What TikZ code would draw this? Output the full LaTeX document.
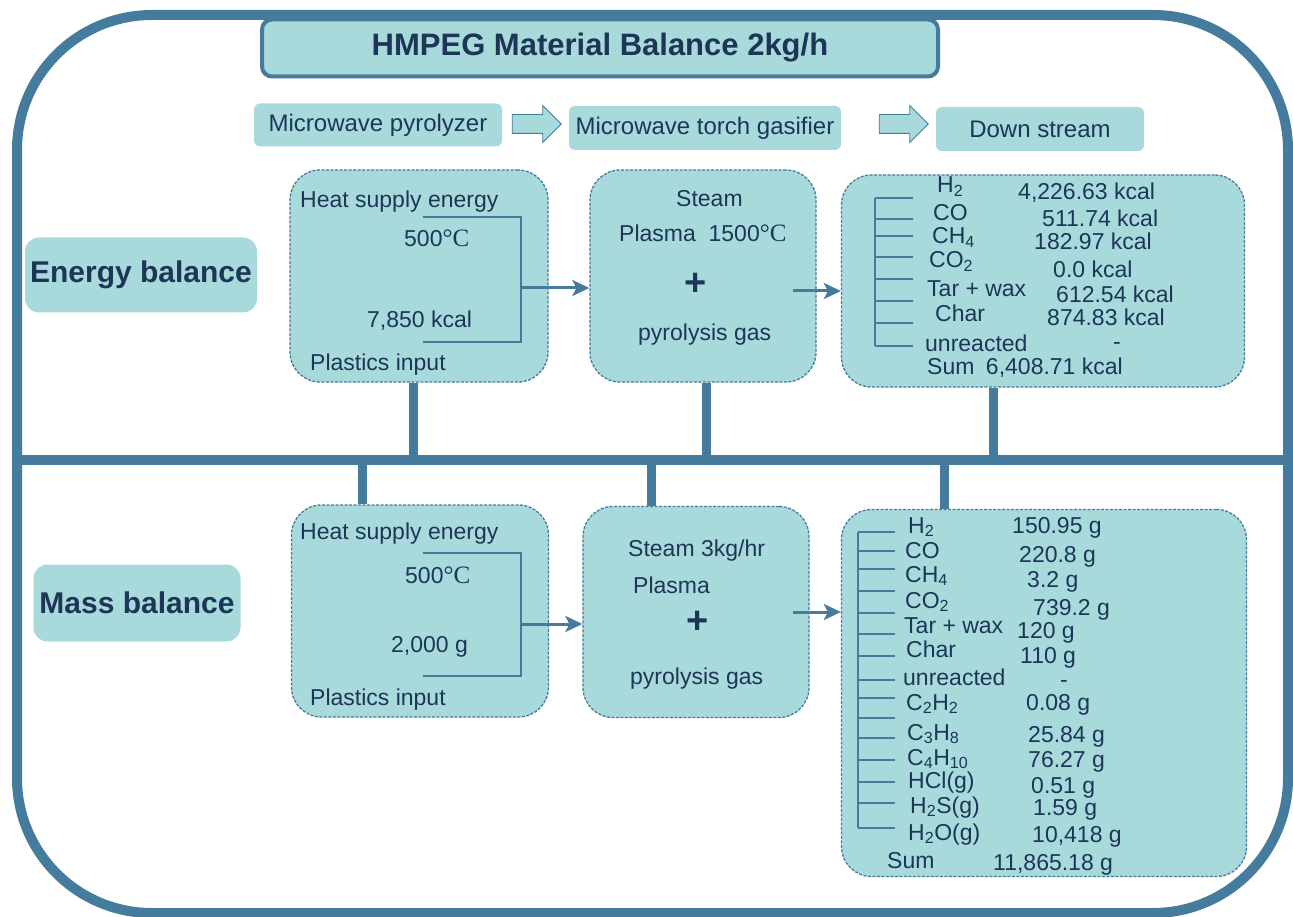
\documentclass[tikz,border=0pt]{standalone}
\usepackage{fontspec}
\setmainfont{Liberation Sans}
\newfontfamily\degfont{Liberation Serif}
\usepackage{xcolor}
\usetikzlibrary{shapes,arrows,positioning,calc,arrows.meta}

\definecolor{boxfill}{RGB}{168,218,220}
\definecolor{lineblue}{RGB}{69,123,157}
\definecolor{textnavy}{RGB}{29,53,87}
\newcommand{\degC}{{\degfont\fontsize{25}{28}\selectfont °C}}

\tikzset{
  panel/.style={draw=lineblue, line width=1.3pt, dash pattern=on 3pt off 1.5pt, fill=boxfill, rounded corners=30pt, inner sep=0pt},
  stagebox/.style={fill=boxfill, rounded corners=6pt, text=textnavy, font=\fontsize{24}{28}\selectfont},
  sidebox/.style={fill=boxfill, rounded corners=14pt, text=textnavy, font=\bfseries\fontsize{30}{34}\selectfont},
  titlebox/.style={draw=lineblue, line width=4pt, fill=boxfill, rounded corners=10pt, text=textnavy, font=\bfseries\fontsize{31}{36}\selectfont},
  blockarrow/.style={single arrow, draw=lineblue, line width=0.8pt, fill=boxfill, inner xsep=0pt, inner ysep=9pt, minimum height=49pt, single arrow head extend=9pt},
  txt/.style={anchor=base west, inner sep=0pt, text=textnavy, font=\fontsize{23}{26}\selectfont},
  plus/.style={inner sep=0pt, text=textnavy, font=\bfseries\fontsize{38}{42}\selectfont},
  frame/.style={draw=lineblue, line width=10pt},
  bar/.style={draw=lineblue, line width=9pt},
  brk/.style={draw=lineblue, line width=1.5pt},
  flow/.style={draw=lineblue, line width=3pt, -{Stealth[length=17pt,width=16pt,inset=4pt]}},
}

\begin{document}
\begin{tikzpicture}[x=1pt, y=-1pt]
    \useasboundingbox (0,0) rectangle (1293,917);

    % Frame
    \draw[frame, rounded corners=135pt] (17,15) rectangle (1288,913);
    \draw[frame] (17,460) -- (1288,460);
    \coordinate (mid) at (0,460);

    % Header
    \node[titlebox, minimum width=676pt, minimum height=57pt] (title) at (600,48) {HMPEG Material Balance 2kg/h};
    \node[stagebox, minimum width=248pt, minimum height=43pt] (pyro) at (378,125) {Microwave pyrolyzer};
    \node[blockarrow] (go1) at (532,124) {};
    \node[stagebox, minimum width=272pt, minimum height=44pt] (torch) at (705,128) {Microwave torch gasifier};
    \node[blockarrow] (go2) at (899,124) {};
    \node[stagebox, minimum width=208pt, minimum height=44pt] (down) at (1040,129) {Down stream};

    % Row labels
    \node[sidebox, minimum width=232pt, minimum height=75pt] (energy) at (141,275) {Energy balance};
    \node[sidebox, minimum width=207pt, minimum height=77pt] (mass) at (137,603) {Mass balance};

    % Energy balance
    \node[panel, minimum width=258pt, minimum height=212pt] (e1) at (419,276) {};
    \node[panel, minimum width=226pt, minimum height=212pt] (e2) at (703,276) {};
    \node[panel, minimum width=403pt, minimum height=212pt] (e3) at (1043,281) {};

    \node[txt] (e1top) at (300,208) {Heat supply energy};
    \node[txt] (e1temp) at (404,247) {500\degC};
    \node[txt] (e1val) at (367,327) {7,850 kcal};
    \node[txt] (e1in) at (310,370) {Plastics input};
    \draw[brk] (423,217) -| (521,342) -- (423,342);
    \coordinate (e1out) at (521,288);

    \node[txt] (e2top) at (676,207) {Steam};
    \node[txt] (e2pl) at (619,242) {Plasma\ \ 1500\degC};
    \node[plus] (e2plus) at (696,284) {+};
    \node[txt] (e2gas) at (638,340) {pyrolysis gas};
    \coordinate (e2out) at (793,291);

    \foreach \ly in {198,219,236,257,279,301,323,346}
        \draw[brk] (913,\ly) -- (875,\ly);
    \draw[brk] (875,198) -- (875,346);
    \foreach \lab/\lx/\ly [count=\i] in {{H\textsubscript{2}}/937/193, CO/933/221, {CH\textsubscript{4}}/932/244, {CO\textsubscript{2}}/929/268, {Tar + wax}/927/297, Char/935/321, unreacted/925/352}
        \node[txt] (eg\i) at (\lx,\ly) {\lab};
    \foreach \val/\lx/\ly [count=\i] in {{4,226.63 kcal}/1018/200, {511.74 kcal}/1042/227, {182.97 kcal}/1034/250, {0.0 kcal}/1053/278, {612.54 kcal}/1056/302, {874.83 kcal}/1047/325, -/1113/349}
        \node[txt] (ev\i) at (\lx,\ly) {\val};
    \node[txt] (esum) at (927,374) {Sum\enspace 6,408.71 kcal};

    % Mass balance
    \node[panel, minimum width=257pt, minimum height=212pt] (m1) at (420,611) {};
    \node[panel, minimum width=226pt, minimum height=211pt] (m2) at (696,612) {};
    \node[panel, minimum width=405pt, minimum height=367pt] (m3) at (1044,693) {};

    \node[txt] (m1top) at (300,539) {Heat supply energy};
    \node[txt] (m1temp) at (405,583) {500\degC};
    \node[txt] (m1val) at (391,652) {2,000 g};
    \node[txt] (m1in) at (310,705) {Plastics input};
    \draw[brk] (423,553) -| (521,676) -- (423,676);
    \coordinate (m1out) at (521,624);

    \node[txt] (m2top) at (628,556) {Steam 3kg/hr};
    \node[txt] (m2pl) at (633,593) {Plasma};
    \node[plus] (m2plus) at (698,622) {+};
    \node[txt] (m2gas) at (630,684) {pyrolysis gas};
    \coordinate (m2out) at (793,612);

    \foreach \ly in {532,551,569,591,613,634,656,680,698,718,738,760,782,803,828}
        \draw[brk] (895,\ly) -- (858,\ly);
    \draw[brk] (858,532) -- (858,828);
    \foreach \lab/\lx/\ly [count=\i] in {{H\textsubscript{2}}/908/533, CO/905/558, {CH\textsubscript{4}}/905/582, {CO\textsubscript{2}}/905/608, {Tar + wax}/904/633, Char/906/657, unreacted/903/685, {C\textsubscript{2}H\textsubscript{2}}/906/710, {C\textsubscript{3}H\textsubscript{8}}/907/740, {C\textsubscript{4}H\textsubscript{10}}/907/765, {HCl(g)}/908/788, {H\textsubscript{2}S(g)}/910/813, {H\textsubscript{2}O(g)}/908/840}
        \node[txt] (mg\i) at (\lx,\ly) {\lab};
    \foreach \val/\lx/\ly [count=\i] in {{150.95 g}/1012/533, {220.8 g}/1019/562, {3.2 g}/1027/587, {739.2 g}/1033/615, {120 g}/1017/638, {110 g}/1020/663, -/1060/687, {0.08 g}/1026/710, {25.84 g}/1028/742, {76.27 g}/1028/767, {0.51 g}/1031/793, {1.59 g}/1033/815, {10,418 g}/1032/842}
        \node[txt] (mv\i) at (\lx,\ly) {\val};
    \node[txt] (msum) at (887,868) {Sum};
    \node[txt] (msumval) at (993,870) {11,865.18 g};

    % Flow inside rows
    \draw[flow] (e1out) -- (e1out -| e2.west);
    \draw[flow] (e2out) -- (e2out -| e3.west);
    \draw[flow] (m1out) -- (m1out -| m2.west);
    \draw[flow] (m2out) -- (m2out -| m3.west);

    % Links to the middle line
    \draw[bar] ([xshift=-6pt]e1.south) -- ([xshift=-6pt]e1.south |- mid);
    \draw[bar] ([xshift=3pt]e2.south) -- ([xshift=3pt]e2.south |- mid);
    \draw[bar] ([xshift=-50pt]e3.south) -- ([xshift=-50pt]e3.south |- mid);
    \draw[bar] ([xshift=-58pt]m1.north) -- ([xshift=-58pt]m1.north |- mid);
    \draw[bar] ([xshift=-45pt]m2.north) -- ([xshift=-45pt]m2.north |- mid);
    \draw[bar] ([xshift=-100pt]m3.north) -- ([xshift=-100pt]m3.north |- mid);
\end{tikzpicture}
\end{document}
